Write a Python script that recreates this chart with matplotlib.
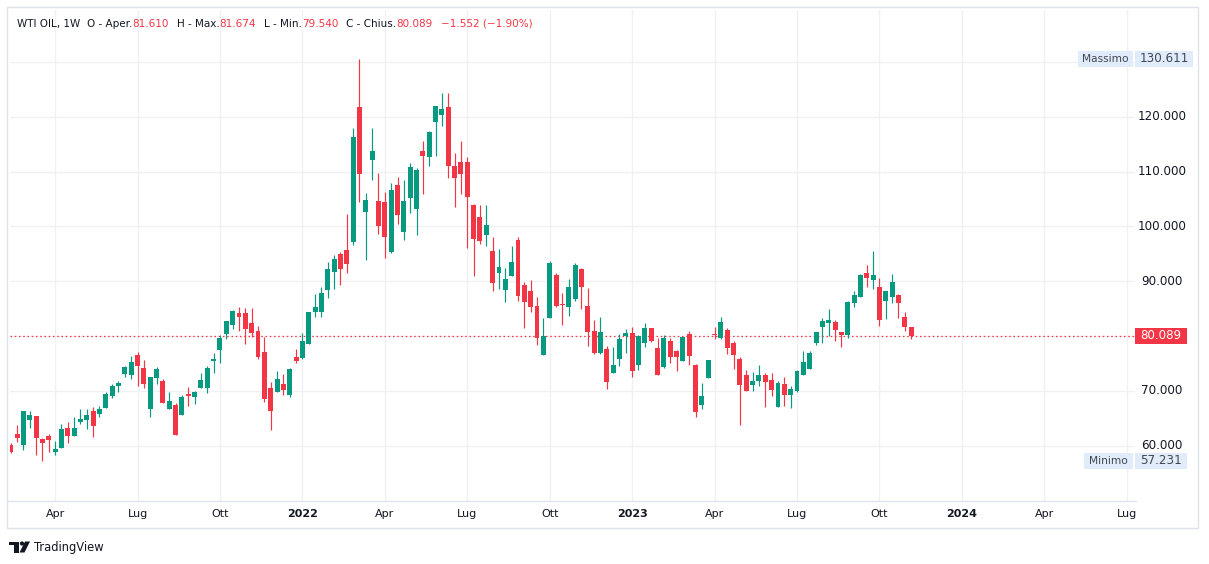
import matplotlib.pyplot as plt
from matplotlib.patches import Rectangle, Ellipse, Polygon
from matplotlib.lines import Line2D
from matplotlib.transforms import blended_transform_factory
import numpy as np
import pandas as pd

plt.rcParams['font.family'] = ['DejaVu Sans']

# weekly candles, WTI OIL, first week starts 2021-02-15
start_week = '2021-02-15'

open_ = [60.2, 62.1, 60.2, 64.7, 65.4, 61.2, 61.75, 58.8, 59.6, 63.3,
         61.8, 64.3, 64.7, 66.3, 65.8, 66.9, 69.1, 70.9, 73.1, 72.9,
         76.5, 74.2, 66.7, 72.4, 71.8, 66.7, 67.4, 65.6, 69.4, 68.9,
         70.5, 70.5, 75.4, 77.4, 80.4, 82.0, 84.2, 84.2, 82.4, 80.9,
         77.1, 70.5, 69.8, 71.2, 69.2, 76.2, 76.0, 78.5, 84.4, 84.4,
         88.4, 91.7, 95.0, 95.7, 97.2, 121.8, 102.6, 112.1, 104.6, 104.5,
         95.3, 107.55, 99.0, 105.2, 103.2, 113.8, 112.6, 119.05, 120.3, 121.8,
         111.0, 111.75, 111.75, 103.9, 101.7, 98.4, 95.5, 91.5, 88.4, 90.9,
         97.5, 89.3, 88.2, 85.5, 76.5, 83.3, 91.1, 85.9, 85.3, 86.75,
         92.2, 85.5, 80.9, 76.9, 77.6, 73.25, 75.8, 80.0, 80.5, 74.7,
         78.7, 81.5, 77.8, 74.3, 79.1, 77.3, 75.4, 80.4, 74.7, 67.4,
         72.3, 80.3, 79.6, 81.1, 78.7, 75.8, 72.9, 71.1, 71.8, 72.9,
         72.0, 67.0, 71.24, 69.2, 70.0, 72.9, 74.0, 78.7, 81.6, 82.4,
         82.55, 80.7, 80.2, 86.0, 87.1, 91.5, 90.2, 88.9, 86.4, 87.1,
         87.5, 83.5, 81.61]

high = [60.5, 63.8, 66.4, 66.3, 65.4, 61.45, 62.2, 60.8, 63.9, 64.3,
        65.3, 66.7, 66.7, 67.0, 67.2, 69.8, 71.3, 71.8, 74.6, 76.4,
        77.1, 75.6, 72.5, 74.4, 72.1, 69.8, 67.7, 69.2, 70.7, 70.0,
        73.25, 74.5, 76.9, 80.2, 82.7, 84.7, 85.3, 85.1, 85.1, 81.8,
        79.8, 71.6, 73.6, 73.1, 74.2, 77.6, 80.5, 84.4, 87.7, 88.9,
        93.5, 94.8, 95.3, 102.3, 118.0, 130.611, 106.1, 118.0, 109.7, 106.3,
        107.9, 109.0, 108.5, 111.6, 110.7, 115.6, 117.4, 122.0, 124.3, 124.3,
        113.4, 115.6, 112.7, 104.1, 103.9, 103.9, 98.1, 95.9, 92.4, 96.4,
        98.1, 89.85, 90.2, 87.1, 83.3, 93.6, 91.5, 87.8, 90.4, 93.3,
        92.4, 88.8, 82.9, 83.4, 78.2, 78.0, 80.4, 81.3, 81.6, 80.2,
        82.4, 81.5, 79.6, 80.2, 79.6, 77.5, 79.8, 80.9, 74.9, 71.4,
        75.6, 81.6, 83.5, 81.5, 79.1, 76.2, 73.8, 73.4, 74.7, 73.25,
        73.25, 71.8, 72.5, 70.9, 73.8, 77.3, 77.3, 80.7, 83.3, 84.9,
        82.9, 80.7, 86.4, 88.2, 91.3, 93.0, 95.5, 90.6, 88.2, 91.3,
        87.7, 84.4, 81.674]

low = [58.7, 60.7, 59.2, 63.3, 58.3, 57.231, 58.9, 58.2, 59.6, 60.5,
       61.8, 63.9, 63.0, 61.6, 65.3, 66.9, 68.6, 69.8, 72.6, 72.2,
       70.9, 70.6, 65.3, 71.3, 67.8, 66.7, 61.9, 65.6, 67.2, 67.6,
       70.5, 69.6, 73.25, 75.1, 79.5, 81.3, 80.9, 78.5, 79.8, 75.8,
       68.0, 62.8, 69.8, 69.2, 68.9, 75.1, 75.8, 78.5, 83.5, 83.5,
       86.9, 88.6, 89.3, 91.5, 96.6, 104.5, 93.9, 108.5, 98.6, 94.2,
       95.1, 100.4, 97.5, 102.4, 98.4, 105.9, 111.0, 112.8, 118.3, 108.8,
       103.5, 105.9, 96.1, 90.9, 96.8, 96.4, 88.2, 88.6, 86.2, 90.9,
       86.4, 81.5, 84.4, 78.4, 76.5, 83.3, 85.3, 82.0, 83.65, 86.4,
       84.9, 78.2, 76.8, 76.8, 70.3, 73.25, 74.5, 76.9, 72.5, 73.8,
       78.0, 78.9, 72.9, 74.1, 75.1, 73.6, 75.4, 74.7, 65.2, 66.7,
       72.3, 79.5, 79.5, 76.7, 74.0, 63.8, 70.0, 70.0, 70.9, 67.0,
       69.05, 67.0, 67.2, 66.9, 69.8, 72.9, 74.0, 78.3, 78.7, 80.0,
       79.1, 78.0, 79.6, 85.3, 87.1, 88.9, 88.6, 81.8, 83.1, 86.0,
       83.3, 80.9, 79.54]

close = [58.9, 61.45, 66.3, 65.6, 61.3, 60.5, 61.1, 59.3, 63.0, 61.8,
         63.3, 64.85, 65.6, 63.6, 66.7, 69.4, 70.9, 71.5, 74.3, 75.3,
         74.6, 71.3, 72.5, 74.0, 67.8, 68.1, 61.9, 68.9, 69.1, 69.8,
         72.0, 74.2, 75.8, 79.6, 82.7, 84.6, 83.5, 81.3, 80.5, 76.2,
         68.5, 66.3, 72.2, 70.1, 74.0, 75.4, 79.1, 84.4, 85.3, 87.85,
         92.2, 94.05, 92.2, 93.1, 116.3, 109.6, 104.8, 113.8, 100.1, 98.1,
         106.6, 102.1, 104.6, 110.8, 110.3, 112.8, 117.2, 122.0, 121.4, 111.0,
         108.8, 109.6, 105.4, 97.7, 97.3, 100.3, 89.7, 92.6, 90.4, 93.5,
         87.3, 86.2, 85.3, 79.6, 80.0, 93.3, 85.5, 85.7, 88.9, 93.0,
         88.9, 80.7, 76.9, 80.7, 71.6, 74.7, 79.5, 80.5, 73.6, 80.0,
         81.5, 79.1, 72.9, 79.6, 76.2, 76.2, 79.8, 76.35, 66.1, 69.05,
         75.6, 80.1, 82.55, 77.8, 76.5, 71.1, 70.0, 71.8, 72.9, 71.6,
         70.15, 71.4, 69.2, 70.3, 73.6, 75.3, 76.9, 80.7, 82.7, 82.9,
         81.1, 80.2, 86.2, 87.5, 91.1, 90.6, 91.1, 82.9, 88.2, 89.85,
         86.0, 81.641, 80.089]

month_names = {4: 'Apr', 7: 'Lug', 10: 'Ott'}
price_levels = [60, 70, 80, 90, 100, 110, 120, 130]

W, H = 1209, 564
UP = '#089981'
DOWN = '#f23645'
TXT = '#131722'
GRID = '#f0f1f4'
BORDER = '#e0e3eb'

o = np.array(open_)
h = np.array(high)
l = np.array(low)
c = np.array(close)
idx = np.arange(len(c))
dates = pd.date_range(start_week, periods=len(c), freq='W-MON')
colors = np.where(c >= o, UP, DOWN)

fig = plt.figure(figsize=(W / 100, H / 100), dpi=100)
ax = fig.add_axes([10 / W, 1 - 501 / H, 1125 / W, 491 / H])
ax.set_xlim(-0.11, 177.3)
ax.set_ylim(49.89, 139.49)
for s in ax.spines.values():
    s.set_visible(False)

# candles
ax.vlines(idx, l, h, colors=colors, lw=0.85, zorder=3)
body_lo = np.minimum(o, c)
body_h = np.maximum(np.abs(c - o), 0.18)
ax.bar(idx, body_h, bottom=body_lo, width=0.78, color=colors, lw=0, zorder=4)

# time axis: first weekly bar of each quarter
tick_months = pd.date_range('2021-04-01', '2024-07-01', freq='QS')
tick_pos = [int(np.ceil((m - dates[0]).days / 7)) for m in tick_months]
tick_lab = [str(m.year) if m.month == 1 else month_names[m.month] for m in tick_months]
ax.set_xticks(tick_pos)
ax.set_xticklabels(tick_lab, fontsize=8, color=TXT)
for t, m in zip(ax.get_xticklabels(), tick_months):
    if m.month == 1:
        t.set_fontweight('bold')
ax.tick_params(axis='x', length=0, pad=5.5)
ax.set_yticks(price_levels)
ax.tick_params(axis='y', length=0, labelleft=False)
ax.grid(True, color=GRID, lw=1, zorder=0)

# last price line
last = c[-1]
ax.axhline(last, color=DOWN, lw=0.9, linestyle=(0, (1.2, 2.2)), zorder=2)

# price scale on the right
blend = blended_transform_factory(fig.transFigure, ax.transData)
for lv in price_levels:
    if abs(lv - last) < 2 or abs(lv - h.max()) < 2:
        continue
    ax.text(1162 / W, lv, f'{lv:.3f}', transform=blend, ha='center', va='center',
            fontsize=8.6, color=TXT, clip_on=False)

box_h = 16 / 5.483


def tag(price, text, x0, x1, fc, tc, fs=8.6):
    ax.add_patch(Rectangle((x0 / W, price - box_h / 2), (x1 - x0) / W, box_h,
                           transform=blend, fc=fc, ec='none', clip_on=False, zorder=5))
    ax.text((x0 + x1) / 2 / W, price, text, transform=blend, ha='center', va='center',
            fontsize=fs, color=tc, clip_on=False, zorder=6)


tag(last, f'{last:.3f}', 1135, 1187, DOWN, 'white')
tag(h.max(), 'Massimo', 1078, 1133, '#e1ecfb', '#434651', fs=7.7)
tag(h.max(), f'{h.max():.3f}', 1135, 1193, '#e1ecfb', '#434651')
tag(l.min(), 'Minimo', 1084, 1133, '#e1ecfb', '#434651', fs=7.7)
tag(l.min(), f'{l.min():.3f}', 1135, 1187, '#e1ecfb', '#434651')

# header legend
chg = c[-1] - c[-2]
pct = chg / c[-2] * 100
segs = [('WTI OIL, 1W', TXT, 7), ('O - Aper.', TXT, 0), (f'{o[-1]:.3f}', DOWN, 8),
        ('H - Max.', TXT, 0), (f'{h[-1]:.3f}', DOWN, 8),
        ('L - Min.', TXT, 0), (f'{l[-1]:.3f}', DOWN, 8),
        ('C - Chius.', TXT, 0), (f'{c[-1]:.3f}', DOWN, 8),
        (f'{chg:.3f} ({pct:.2f}%)'.replace('-', '\u2212'), DOWN, 0)]
r = fig.canvas.get_renderer()
x = 17
for s, col, gap in segs:
    t = fig.text(x / W, 1 - 24 / H, s, color=col, fontsize=7.5, va='center', ha='left')
    x += t.get_window_extent(renderer=r).width + gap

# price-scale column hides the time labels that run under it
fig.add_artist(Rectangle((1136 / W, 1 - 527 / H), 61 / W, 26 / H, fc='white', ec='none',
                         transform=fig.transFigure, zorder=1))

# frame
fig.add_artist(Rectangle((7 / W, 1 - 528 / H), 1191 / W, 521 / H, fill=False,
                         ec=BORDER, lw=1, transform=fig.transFigure, zorder=2))
fig.add_artist(Line2D([7 / W, 1136 / W], [1 - 501 / H] * 2, color=BORDER, lw=1,
                      transform=fig.transFigure, zorder=2))


# TradingView logo
def px(x, y):
    return (x / W, 1 - y / H)


fig.add_artist(Polygon([px(9, 541.5), px(18.5, 541.5), px(18.5, 552.5), px(14, 552.5),
                        px(14, 545), px(9, 545)], closed=True, fc=TXT, ec='none',
                       transform=fig.transFigure))
fig.add_artist(Ellipse(px(22, 543.5), 4.2 / W, 4.2 / H, fc=TXT, ec='none',
                       transform=fig.transFigure))
fig.add_artist(Polygon([px(19.5, 552.5), px(24.5, 552.5), px(30, 541.5), px(25, 541.5)],
                       closed=True, fc=TXT, ec='none', transform=fig.transFigure))
fig.text(34 / W, 1 - 547 / H, 'TradingView', fontsize=8.3, color=TXT, va='center', ha='left')

fig.savefig('out.png', dpi=100, facecolor='white')
